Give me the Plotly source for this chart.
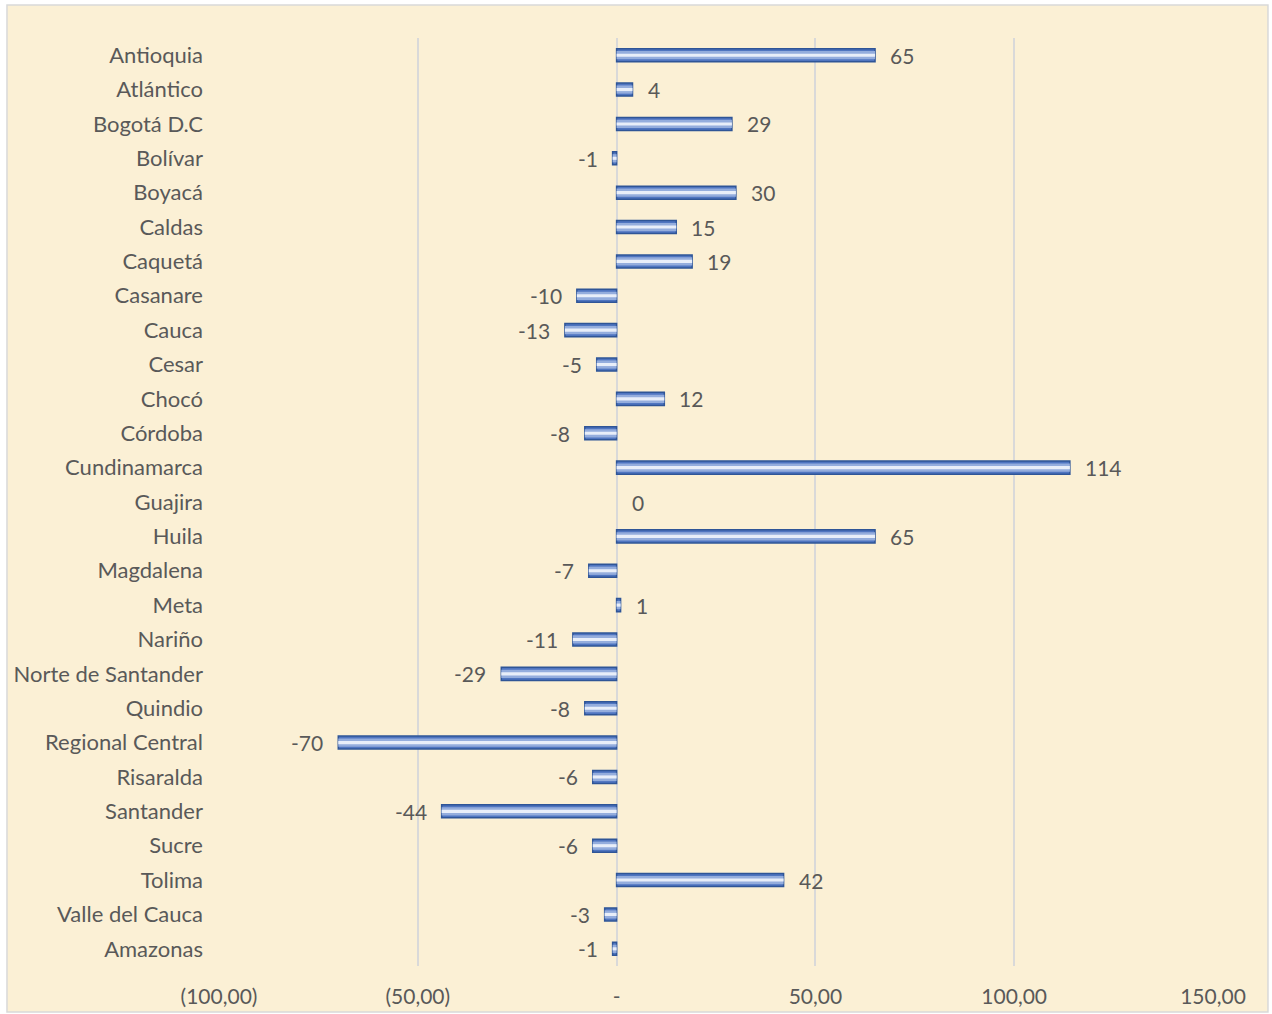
import plotly.graph_objects as go

departamentos = ['Antioquia', 'Atlántico', 'Bogotá D.C', 'Bolívar', 'Boyacá', 'Caldas',
                 'Caquetá', 'Casanare', 'Cauca', 'Cesar', 'Chocó', 'Córdoba',
                 'Cundinamarca', 'Guajira', 'Huila', 'Magdalena', 'Meta', 'Nariño',
                 'Norte de Santander', 'Quindio', 'Regional Central', 'Risaralda',
                 'Santander', 'Sucre', 'Tolima', 'Valle del Cauca', 'Amazonas']
valores = [65, 4, 29, -1, 30, 15, 19, -10, -13, -5, 12, -8, 114, 0, 65, -7, 1, -11,
           -29, -8, -70, -6, -44, -6, 42, -3, -1]

tick_vals = [-100, -50, 0, 50, 100, 150]
tick_text = ['(100,00)', '(50,00)', '-', '50,00', '100,00', '150,00']

font = 'Lato, "Open Sans", sans-serif'
gris = '#595959'
tam = 22

fig = go.Figure()

# bar drawn in layers to fake the excel gradient fill
borde = [0 if v == 0 else 1.5 for v in valores]
capas = [(0.38, '#4F75C0', dict(color='#2F5597', width=borde)),
         (0.24, '#94ADDD', dict(width=0)),
         (0.09, '#E8EEF9', dict(width=0))]
for ancho, color, linea in capas:
    fig.add_trace(go.Bar(
        x=valores, y=departamentos, orientation='h', width=ancho,
        marker=dict(color=color, line=linea),
        showlegend=False,
    ))

for d, v in zip(departamentos, valores):
    fig.add_annotation(
        x=v, y=d, text=str(v), showarrow=False,
        xanchor='left' if v >= 0 else 'right',
        xshift=13 if v >= 0 else -13,
        font=dict(family=font, size=tam - 1, color=gris),
    )

# fondo tipo pergamino con borde
fig.add_shape(type='rect', xref='paper', yref='paper', layer='below',
              x0=-0.2133, x1=1.0553, y0=-0.0496, y1=1.0356,
              fillcolor='#FBF0D5', line=dict(color='#D9D9D9', width=1.5))

fig.update_layout(
    width=1272, height=1014,
    barmode='overlay',
    paper_bgcolor='white',
    plot_bgcolor='rgba(0,0,0,0)',
    margin=dict(l=219, r=59, t=38, b=48),
    font=dict(family=font, size=tam, color=gris),
    xaxis=dict(range=[-100, 150], tickvals=tick_vals, ticktext=tick_text,
               showgrid=True, gridcolor='#D9D9D9', gridwidth=1.5,
               zeroline=False, showline=False, ticks='', automargin=False,
               ticklabelstandoff=16, tickfont=dict(size=tam - 1, color=gris)),
    yaxis=dict(autorange='reversed', showgrid=False, zeroline=False,
               showline=False, ticks='', ticklabelstandoff=15, automargin=False,
               tickfont=dict(size=tam, color=gris)),
)

fig.write_html("out.html", config={'displayModeBar': False},
               post_script="document.body.style.margin='0';")
